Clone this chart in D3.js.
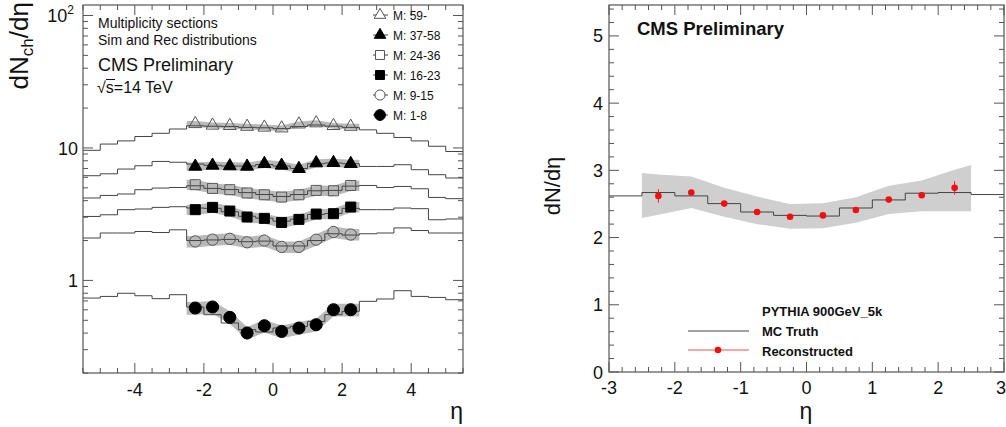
<!DOCTYPE html>
<html>
<head>
<meta charset="utf-8">
<script src="https://cdn.jsdelivr.net/npm/d3@7"></script>
<style>
  body { margin: 0; background: #fff; }
  text { font-family: "Liberation Sans", Arial, Helvetica, sans-serif; fill: #111; }
</style>
</head>
<body>
<div id="chart"></div>
<script>
// ---- left panel: multiplicity sections (log scale) ----
var binEdgesL = [-5.5, -5, -4.5, -4, -3.5, -3, -2.5, -2, -1.5, -1, -0.5, 0,
                 0.5, 1, 1.5, 2, 2.5, 3, 3.5, 4, 4.5, 5, 5.5];
var pointEta = [-2.25, -1.75, -1.25, -0.75, -0.25, 0.25, 0.75, 1.25, 1.75, 2.25];
var sectionLabels = ['M: 59-', 'M: 37-58', 'M: 24-36', 'M: 16-23', 'M: 9-15', 'M: 1-8'];

var simM59  = [9.6, 10.7, 11.3, 12.2, 12.9, 13.9, 14.7, 14.6, 14.5, 14.3, 14.2, 14.0, 14.5, 14.9, 14.6, 14.3, 13.7, 12.9, 12.0, 11.3, 10.3, 9.4];
var simM37  = [6.17, 6.38, 6.93, 7.34, 7.91, 7.8, 7.56, 7.4, 7.3, 7.3, 7.5, 7.3, 7.0, 7.6, 7.7, 7.6, 7.25, 7.25, 7.47, 6.85, 6.28, 5.93];
var simM24  = [4.19, 4.38, 4.49, 4.84, 4.98, 5.03, 5.18, 4.95, 4.85, 4.6, 4.45, 4.3, 4.45, 4.75, 4.78, 5.15, 5.21, 5.03, 5.12, 4.92, 4.23, 4.14];
var simM16  = [3.04, 3.13, 3.42, 3.46, 3.56, 3.6, 3.52, 3.5, 3.3, 3.05, 2.95, 2.8, 2.9, 3.15, 3.2, 3.5, 3.42, 3.42, 3.52, 3.48, 2.87, 2.91];
var simM9   = [2.09, 2.28, 2.28, 2.34, 2.3, 2.41, 2.0, 2.02, 2.04, 1.96, 1.98, 1.82, 1.82, 2.0, 2.25, 2.2, 2.25, 2.28, 2.49, 2.38, 2.28, 2.28];
var simM1   = [0.736, 0.757, 0.80, 0.766, 0.728, 0.78, 0.63, 0.551, 0.477, 0.425, 0.408, 0.437, 0.45, 0.49, 0.551, 0.584, 0.695, 0.724, 0.836, 0.757, 0.744, 0.715];

var recM59 = [15.2, 14.8, 14.7, 14.5, 14.3, 14.1, 15.1, 15.4, 14.7, 14.5];
var recM37 = [7.25, 7.38, 7.3, 7.25, 7.6, 7.38, 6.97, 7.69, 7.73, 7.6];
var recM24 = [5.28, 4.95, 4.84, 4.57, 4.43, 4.26, 4.43, 4.78, 4.75, 5.21];
var recM16 = [3.42, 3.56, 3.34, 3.01, 2.94, 2.74, 2.89, 3.17, 3.19, 3.58];
var recM9  = [1.97, 2.03, 2.06, 1.94, 2.0, 1.79, 1.79, 2.03, 2.32, 2.22];
var recM1  = [0.619, 0.63, 0.526, 0.401, 0.455, 0.412, 0.437, 0.463, 0.601, 0.601];

var relErr = [0.05, 0.07, 0.09, 0.09, 0.1, 0.11];

// ---- right panel: PYTHIA 900 GeV ----
var binEdgesR = [-3, -2.5, -2, -1.5, -1, -0.5, 0, 0.5, 1, 1.5, 2, 2.5, 3];
var mcTruth = [2.62, 2.67, 2.62, 2.505, 2.38, 2.33, 2.32, 2.44, 2.56, 2.66, 2.67, 2.64];
var recoEta = [-2.25, -1.75, -1.25, -0.75, -0.25, 0.25, 0.75, 1.25, 1.75, 2.25];
var recoVal = [2.62, 2.67, 2.505, 2.38, 2.31, 2.33, 2.41, 2.565, 2.63, 2.74];
var recoErr = [0.1, 0.04, 0.03, 0.03, 0.03, 0.03, 0.03, 0.03, 0.04, 0.1];
var bandEta = [-2.5, -2.25, -1.75, -1.25, -0.75, -0.25, 0.25, 0.75, 1.25, 1.75, 2.25, 2.5];
var bandHi  = [2.96, 2.94, 2.91, 2.74, 2.61, 2.50, 2.51, 2.60, 2.77, 2.85, 3.01, 3.08];
var bandLo  = [2.29, 2.34, 2.44, 2.31, 2.20, 2.13, 2.14, 2.22, 2.35, 2.39, 2.39, 2.39];

var frameColor = '#555';
var histColor = '#444';

var svg = d3.select('#chart').append('svg')
    .attr('width', 1006)
    .attr('height', 427);

var xL = d3.scaleLinear().domain([-5.5, 5.5]).range([83, 463]);
var yL = d3.scaleLog().domain([0.2, 120]).range([373, 5]);
var xR = d3.scaleLinear().domain([-3, 3]).range([609, 1004]);
var yR = d3.scaleLinear().domain([0, 5.46]).range([372, 5]);

function frame(xs, ys) {
  var x0 = xs.range()[0], x1 = xs.range()[1];
  var y0 = ys.range()[1], y1 = ys.range()[0];
  svg.append('rect')
    .attr('x', x0).attr('y', y0)
    .attr('width', x1 - x0).attr('height', y1 - y0)
    .attr('fill', 'none').attr('stroke', frameColor).attr('stroke-width', 1.2);
}

function ticks(xs, ys, xTicks, yTicks) {
  var x0 = xs.range()[0], x1 = xs.range()[1];
  var y0 = ys.range()[1], y1 = ys.range()[0];
  var g = svg.append('g').attr('stroke', frameColor).attr('stroke-width', 1);
  xTicks.forEach(function(t) {
    var x = xs(t[0]);
    g.append('line').attr('x1', x).attr('x2', x).attr('y1', y1).attr('y2', y1 - t[1]);
    g.append('line').attr('x1', x).attr('x2', x).attr('y1', y0).attr('y2', y0 + t[1]);
  });
  yTicks.forEach(function(t) {
    var y = ys(t[0]);
    g.append('line').attr('x1', x0).attr('x2', x0 + t[1]).attr('y1', y).attr('y2', y);
    g.append('line').attr('x1', x1).attr('x2', x1 - t[1]).attr('y1', y).attr('y2', y);
  });
}

function histPath(edges, vals, xs, ys) {
  var pts = [];
  vals.forEach(function(v, i) {
    pts.push([edges[i], v]);
    pts.push([edges[i + 1], v]);
  });
  return d3.line().x(function(d) { return xs(d[0]); }).y(function(d) { return ys(d[1]); })(pts);
}

// ================= LEFT PANEL =================
var simAll = [simM59, simM37, simM24, simM16, simM9, simM1];
var recAll = [recM59, recM37, recM24, recM16, recM9, recM1];
var markerType = [d3.symbolTriangle, d3.symbolTriangle, d3.symbolSquare, d3.symbolSquare, d3.symbolCircle, d3.symbolCircle];
var markerFilled = [false, true, false, true, false, true];
var markerSize = [72, 72, 100, 100, 100, 115];

// bands
recAll.forEach(function(rec, s) {
  var pts = [[-2.5, rec[0]]];
  rec.forEach(function(v, i) { pts.push([pointEta[i], v]); });
  pts.push([2.5, rec[rec.length - 1]]);
  svg.append('path')
    .attr('d', d3.area()
      .x(function(d) { return xL(d[0]); })
      .y0(function(d) { return yL(d[1] * (1 - relErr[s])); })
      .y1(function(d) { return yL(d[1] * (1 + relErr[s])); })(pts))
    .attr('fill', '#b9b9b9');
});

// MC histograms
simAll.forEach(function(sim) {
  svg.append('path')
    .attr('d', histPath(binEdgesL, sim, xL, yL))
    .attr('fill', 'none').attr('stroke', histColor).attr('stroke-width', 1);
});

// markers
recAll.forEach(function(rec, s) {
  svg.append('g').selectAll('path')
    .data(rec)
    .enter().append('path')
    .attr('d', d3.symbol().type(markerType[s]).size(markerSize[s]))
    .attr('transform', function(d, i) { return 'translate(' + xL(pointEta[i]) + ',' + yL(d) + ')'; })
    .attr('fill', markerFilled[s] ? '#000' : 'none')
    .attr('stroke', markerFilled[s] ? '#000' : '#555')
    .attr('stroke-width', 1);
});

frame(xL, yL);
var xTicksL = [];
for (var e = -5.5; e <= 5.5001; e += 0.5) {
  xTicksL.push([e, (Math.abs(e % 2) < 1e-6) ? 10 : 5]);
}
var yTicksL = [];
[0.1, 1, 10, 100].forEach(function(dec) {
  for (var k = 1; k <= 9; k++) {
    var v = dec * k;
    if (v >= 0.2 && v <= 120) yTicksL.push([v, k === 1 ? 10 : 5]);
  }
});
ticks(xL, yL, xTicksL, yTicksL);

// axis labels left
[-4, -2, 0, 2, 4].forEach(function(t) {
  svg.append('text').attr('x', xL(t)).attr('y', 396)
    .attr('text-anchor', 'middle').attr('font-size', 18).text(t);
});
svg.append('text').attr('x', 78).attr('y', yL(1) + 7).attr('text-anchor', 'end').attr('font-size', 18).text('1');
svg.append('text').attr('x', 78).attr('y', yL(10) + 7).attr('text-anchor', 'end').attr('font-size', 18).text('10');
var t100 = svg.append('text').attr('x', 74).attr('y', yL(100) + 7).attr('text-anchor', 'end').attr('font-size', 18);
t100.append('tspan').text('10');
t100.append('tspan').attr('font-size', 12).attr('dy', -8).text('2');

svg.append('text').attr('x', 463).attr('y', 419).attr('text-anchor', 'end').attr('font-size', 23).text('η');
var ylab = svg.append('text')
  .attr('transform', 'translate(28,2) rotate(-90)')
  .attr('text-anchor', 'end').attr('font-size', 26);
ylab.append('tspan').text('dN');
ylab.append('tspan').attr('font-size', 17).attr('dy', 5).text('ch');
ylab.append('tspan').attr('dy', -5).text('/dη');

// texts left
svg.append('text').attr('x', 98).attr('y', 28).attr('font-size', 14).text('Multiplicity sections');
svg.append('text').attr('x', 98).attr('y', 45).attr('font-size', 14).text('Sim and Rec distributions');
svg.append('text').attr('x', 98).attr('y', 71).attr('font-size', 18).text('CMS Preliminary');
svg.append('text').attr('x', 97).attr('y', 93).attr('font-size', 16).text('√s=14 TeV');
svg.append('line').attr('x1', 106).attr('x2', 115).attr('y1', 79.5).attr('y2', 79.5)
  .attr('stroke', '#111').attr('stroke-width', 1);

// legend left
sectionLabels.forEach(function(lab, s) {
  var cy = 15 + s * 20;
  svg.append('line').attr('x1', 373).attr('x2', 388).attr('y1', cy).attr('y2', cy)
    .attr('stroke', histColor).attr('stroke-width', 1);
  svg.append('path')
    .attr('d', d3.symbol().type(markerType[s]).size(markerSize[s] * 0.8))
    .attr('transform', 'translate(380,' + cy + ')')
    .attr('fill', markerFilled[s] ? '#000' : '#fff')
    .attr('stroke', markerFilled[s] ? '#000' : '#555');
  svg.append('text').attr('x', 393).attr('y', cy + 4.5).attr('font-size', 12).text(lab);
});

// ================= RIGHT PANEL =================
var bandPts = bandEta.map(function(e, i) { return [e, bandLo[i], bandHi[i]]; });
svg.append('path')
  .attr('d', d3.area()
    .x(function(d) { return xR(d[0]); })
    .y0(function(d) { return yR(d[1]); })
    .y1(function(d) { return yR(d[2]); })(bandPts))
  .attr('fill', '#cfcfcf');

svg.append('path')
  .attr('d', histPath(binEdgesR, mcTruth, xR, yR))
  .attr('fill', 'none').attr('stroke', histColor).attr('stroke-width', 1);

svg.append('g').selectAll('line')
  .data(recoVal)
  .enter().append('line')
  .attr('x1', function(d, i) { return xR(recoEta[i]); })
  .attr('x2', function(d, i) { return xR(recoEta[i]); })
  .attr('y1', function(d, i) { return yR(d - recoErr[i]); })
  .attr('y2', function(d, i) { return yR(d + recoErr[i]); })
  .attr('stroke', '#e8231f').attr('stroke-width', 1);
svg.append('g').selectAll('circle')
  .data(recoVal)
  .enter().append('circle')
  .attr('cx', function(d, i) { return xR(recoEta[i]); })
  .attr('cy', function(d) { return yR(d); })
  .attr('r', 3.3)
  .attr('fill', '#f01010');

frame(xR, yR);
var xTicksR = [];
for (var a = -3; a <= 3.0001; a += 0.2) {
  xTicksR.push([a, (Math.abs(a - Math.round(a)) < 1e-6) ? 10 : 5]);
}
var yTicksR = [];
for (var b = 0; b <= 5.4001; b += 0.2) {
  yTicksR.push([b, (Math.abs(b - Math.round(b)) < 1e-6) ? 10 : 5]);
}
ticks(xR, yR, xTicksR, yTicksR);

[-3, -2, -1, 0, 1, 2].forEach(function(t) {
  svg.append('text').attr('x', xR(t)).attr('y', 394)
    .attr('text-anchor', 'middle').attr('font-size', 18).text(t);
});
// last label sits at the window edge, as in the original
svg.append('text').attr('x', 1006).attr('y', 394)
  .attr('text-anchor', 'end').attr('font-size', 18).text('3');
[0, 1, 2, 3, 4, 5].forEach(function(t) {
  svg.append('text').attr('x', 603).attr('y', yR(t) + 6.5)
    .attr('text-anchor', 'end').attr('font-size', 18).text(t);
});
svg.append('text').attr('x', 806).attr('y', 419).attr('text-anchor', 'middle').attr('font-size', 23).text('η');
svg.append('text')
  .attr('transform', 'translate(560,186) rotate(-90)')
  .attr('text-anchor', 'middle').attr('font-size', 22).text('dN/dη');

svg.append('text').attr('x', 637).attr('y', 35).attr('font-size', 18.5).attr('font-weight', 'bold').text('CMS Preliminary');

// legend right
svg.append('text').attr('x', 762).attr('y', 316).attr('font-size', 13).attr('font-weight', 'bold').text('PYTHIA 900GeV_5k');
svg.append('line').attr('x1', 688).attr('x2', 749).attr('y1', 331).attr('y2', 331).attr('stroke', histColor);
svg.append('text').attr('x', 762).attr('y', 336).attr('font-size', 13).attr('font-weight', 'bold').text('MC Truth');
svg.append('line').attr('x1', 688).attr('x2', 749).attr('y1', 350).attr('y2', 350).attr('stroke', '#e85050');
svg.append('circle').attr('cx', 718).attr('cy', 350).attr('r', 3.3).attr('fill', '#f01010');
svg.append('text').attr('x', 762).attr('y', 356).attr('font-size', 13).attr('font-weight', 'bold').text('Reconstructed');
</script>
</body>
</html>
